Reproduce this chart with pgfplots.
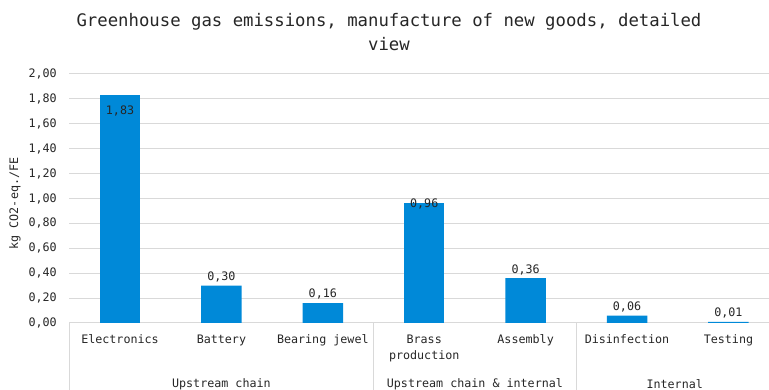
\documentclass[border=0pt]{standalone}
\usepackage{pgfplots}
\pgfplotsset{compat=1.18}
\usepackage{fontspec}
\setmainfont{DejaVu Sans Mono}
\definecolor{barblue}{RGB}{0,137,216}
\definecolor{gridgray}{RGB}{217,217,217}
\definecolor{txt}{RGB}{38,38,38}
\begin{document}
\begin{tikzpicture}[x=1pt,y=1pt]
\useasboundingbox (-69.3,-67) rectangle (699.7,323);
\begin{axis}[
  at={(0,0)}, anchor=south west,
  scale only axis, width=699.7pt, height=249pt,
  xmin=-0.5, xmax=6.40, ymin=0, ymax=2,
  clip=false,
  axis line style={draw=none},
  major tick length=0pt,
  ymajorgrids, grid style={gridgray, line width=1pt},
  ytick={0,0.2,0.4,0.6,0.8,1.0,1.2,1.4,1.6,1.8,2.0},
  xtick={0,1,2,3,4,5,6},
  xticklabels={Electronics,Battery,Bearing jewel,{Brass\\production},Assembly,Disinfection,Testing},
  /pgf/number format/assume math mode=true,
  yticklabel style={/pgf/number format/fixed, /pgf/number format/fixed zerofill, /pgf/number format/precision=2, /pgf/number format/use comma, anchor=east, xshift=-9pt},
  ticklabel style={font=\fontsize{11.7}{16}\selectfont, text=txt},
  xticklabel style={anchor=north, align=center, yshift=-8pt},
  ylabel={kg CO2-eq./FE},
  ylabel style={at={(axis description cs:-0.0776,0.48)}, anchor=center, font=\fontsize{11.7}{14}\selectfont, text=txt},
  ybar, bar width=40.5pt, bar shift=0pt,
  nodes near coords={\pgfmathprintnumber[fixed,fixed zerofill,precision=2,use comma,assume math mode=true]{\pgfplotspointmeta}},
  every node near coord/.append style={font=\fontsize{11.7}{14}\selectfont, text=txt},
]
\addplot[fill=barblue, draw=none, every node near coord/.append style={anchor=north, yshift=-7pt}] coordinates {(0,1.83)};
\addplot[fill=barblue, draw=none, every node near coord/.append style={yshift=-9pt}] coordinates {(3,0.96)};
\addplot[fill=barblue, draw=none] coordinates {(1,0.30) (2,0.16) (4,0.36) (5,0.06) (6,0.01)};
\draw[gridgray, line width=1pt] (axis cs:-0.5,0) -- ([yshift=-70pt]axis cs:-0.5,0);
\draw[gridgray, line width=1pt] (axis cs:2.5,0) -- ([yshift=-70pt]axis cs:2.5,0);
\draw[gridgray, line width=1pt] (axis cs:4.5,0) -- ([yshift=-70pt]axis cs:4.5,0);
\node[font=\fontsize{11.7}{14}\selectfont, text=txt] at (axis cs:1,0) [yshift=-61pt] {Upstream chain};
\node[font=\fontsize{11.7}{14}\selectfont, text=txt] at (axis cs:3.5,0) [yshift=-61pt] {Upstream chain \& internal};
\node[font=\fontsize{11.7}{14}\selectfont, text=txt] at (axis cs:5.5,0) [yshift=-61pt, xshift=-3pt] {Internal};
\end{axis}
\node[font=\fontsize{17.3}{24}\selectfont, align=center, text=txt] at (319.7,291) {Greenhouse gas emissions, manufacture of new goods, detailed\\view};
\end{tikzpicture}
\end{document}
